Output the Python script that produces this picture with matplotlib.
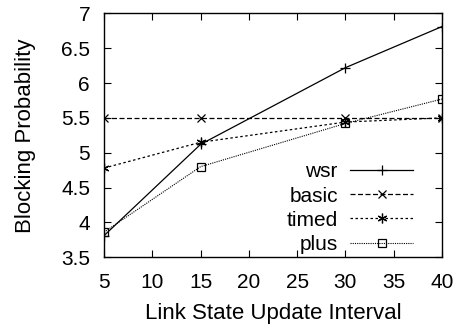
import matplotlib
matplotlib.use("Agg")
import matplotlib.pyplot as plt

x = [5, 15, 30, 40]
wsr = [3.81, 5.12, 6.22, 6.81]
basic = [5.5, 5.5, 5.5, 5.5]
timed = [4.78, 5.15, 5.44, 5.5]
plus = [3.86, 4.80, 5.42, 5.77]
xticks = [5, 10, 15, 20, 25, 30, 35, 40]
yticks = [3.5, 4, 4.5, 5, 5.5, 6, 6.5, 7]
ytick_labels = ["3.5", "4", "4.5", "5", "5.5", "6", "6.5", "7"]

plt.rcParams['font.family'] = ['Liberation Sans', 'DejaVu Sans']
fig = plt.figure(figsize=(4.61, 3.31), dpi=100)
ax = fig.add_axes([0.2256, 0.2227, 0.7332, 0.7371])

lw = 0.9
ax.plot(x, wsr, color='black', lw=lw, linestyle='-', marker='+', ms=7, mew=0.9, label='wsr')
ax.plot(x, basic, color='black', lw=lw, linestyle=(0, (4, 2)), marker='x', ms=5.5, mew=0.9, label='basic')
ax.plot(x, timed, color='black', lw=lw, linestyle=(0, (2, 2)), marker=(6, 2, 0), ms=7, mew=0.9, label='timed')
ax.plot(x, plus, color='black', lw=0.8, linestyle=(0, (1, 1)), marker='s', ms=5.5, mew=0.9, mfc='none', label='plus')

ax.set_xlim(5, 40)
ax.set_ylim(3.5, 7)
ax.set_xticks(xticks)
ax.set_yticks(yticks)
ax.set_yticklabels(ytick_labels)
ax.tick_params(direction='in', top=True, right=True, labelsize=15, length=5, width=0.8)
ax.tick_params(axis='x', pad=11)
ax.tick_params(axis='y', pad=10)
for s in ax.spines.values():
    s.set_linewidth(1.0)

ax.set_xlabel('Link State Update Interval', fontsize=16, labelpad=8)
ax.set_ylabel('Blocking Probability', fontsize=16, labelpad=18)

leg = ax.legend(loc='lower right', markerfirst=False, frameon=False, fontsize=15,
                handlelength=3.0, handletextpad=0.6, labelspacing=0.25,
                borderpad=0.1, borderaxespad=0.0, bbox_to_anchor=(0.92, 0.005))

fig.savefig('out.png', dpi=100)
